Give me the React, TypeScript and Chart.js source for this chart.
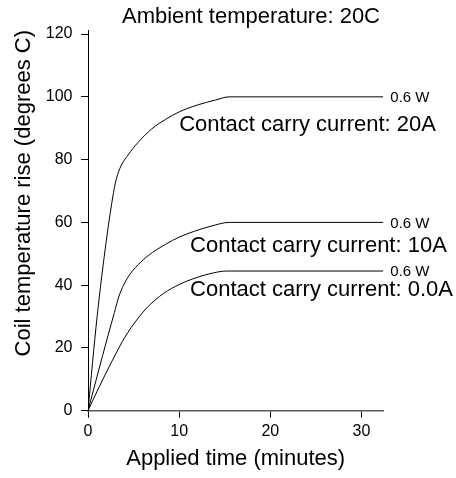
import React, { useEffect, useRef } from 'react';
import { Chart, registerables } from 'chart.js';

Chart.register(...registerables);

// ---- data ----
const time20A = [0, 1, 2, 2.6, 3, 3.5, 4.4, 5.5, 7, 8.5, 10, 12, 14, 15.5, 32.4];
const rise20A = [0, 30, 54, 66, 72.5, 77.2, 81.5, 85.5, 89.8, 92.8, 95.2, 97.4, 99, 100, 100];

const time10A = [0, 1, 2.2, 2.9, 3.4, 4.4, 5.5, 6.6, 8.5, 10, 11.7, 13.5, 15.5, 32.4];
const rise10A = [0, 11, 24, 31.3, 36.5, 42.6, 46.5, 49.4, 53, 55.3, 57.2, 58.8, 60, 60];

const time0A = [0, 1, 2.2, 3.1, 4, 5.5, 6.6, 8.3, 10, 11.5, 13.3, 15.2, 32.4];
const rise0A = [0, 6.2, 13.3, 18.4, 23.2, 29.5, 33.2, 37.4, 40.2, 42, 43.6, 44.5, 44.5];

const seriesNames = ['Contact carry current: 20A', 'Contact carry current: 10A', 'Contact carry current: 0.0A'];
const powerLabels = ['0.6 W', '0.6 W', '0.6 W'];
const nameLabelTime = [10, 11.2, 11.2];
const nameLabelRise = [89.2, 50.5, 36.5];

const xTicks = [0, 10, 20, 30];
const yTicks = [0, 20, 40, 60, 80, 100, 120];

const chartTitle = 'Ambient temperature: 20C';
const xTitle = 'Applied time (minutes)';
const yTitle = 'Coil temperature rise (degrees C)';

const FONT = '"Liberation Sans", Arial, Helvetica, sans-serif';

const seriesTimes = [time20A, time10A, time0A];
const seriesRises = [rise20A, rise10A, rise0A];

export default function App() {
  const canvasRef = useRef<HTMLCanvasElement | null>(null);

  useEffect(() => {
    const canvas = canvasRef.current;
    if (!canvas) return;

    const labelPlugin = {
      id: 'labelPlugin',
      afterDraw(chart: any) {
        const ctx = chart.ctx;
        const xs = chart.scales.x;
        const ys = chart.scales.y;
        ctx.save();
        ctx.fillStyle = '#000';
        // main title
        ctx.font = `22px ${FONT}`;
        ctx.textAlign = 'center';
        ctx.textBaseline = 'alphabetic';
        ctx.fillText(chartTitle, 251, 22.7);
        // series labels
        for (let i = 0; i < seriesNames.length; i++) {
          const t = seriesTimes[i];
          const r = seriesRises[i];
          const endX = xs.getPixelForValue(t[t.length - 1]);
          const endY = ys.getPixelForValue(r[r.length - 1]);
          ctx.font = `15px ${FONT}`;
          ctx.textAlign = 'left';
          ctx.textBaseline = 'alphabetic';
          ctx.fillText(powerLabels[i], endX + 7, endY + 5.3);
          ctx.font = `22px ${FONT}`;
          ctx.fillText(seriesNames[i], xs.getPixelForValue(nameLabelTime[i]), ys.getPixelForValue(nameLabelRise[i]));
        }
        ctx.restore();
      },
    };

    const chart = new Chart(canvas, {
      type: 'line',
      data: {
        datasets: seriesTimes.map((t, i) => ({
          label: seriesNames[i],
          data: t.map((x, j) => ({ x, y: seriesRises[i][j] })),
          borderColor: '#000',
          borderWidth: 1,
          pointRadius: 0,
          fill: false,
          cubicInterpolationMode: 'monotone' as const,
        })),
      },
      options: {
        responsive: false,
        animation: false,
        events: [],
        layout: { padding: { top: 30, right: 72.7, bottom: 0, left: 0 } },
        plugins: { legend: { display: false }, tooltip: { enabled: false }, title: { display: false } },
        scales: {
          x: {
            type: 'linear',
            min: 0,
            max: 32.4,
            afterBuildTicks: (s: any) => {
              s.ticks = xTicks.map((v) => ({ value: v }));
            },
            afterFit: (s: any) => {
              s.height = 67.3;
            },
            grid: { display: true, drawOnChartArea: false, drawTicks: true, tickLength: 7, color: '#000' },
            border: { display: true, color: 'rgba(0,0,0,0.65)', width: 1.5 },
            ticks: { color: '#000', font: { family: FONT, size: 16 }, padding: 4, maxRotation: 0, autoSkip: false },
            title: { display: true, text: xTitle, color: '#000', font: { family: FONT, size: 22 }, padding: { top: 0, bottom: 6 } },
          },
          y: {
            type: 'linear',
            min: 0,
            max: 121.3,
            afterBuildTicks: (s: any) => {
              s.ticks = yTicks.map((v) => ({ value: v }));
            },
            afterFit: (s: any) => {
              s.width = 88;
            },
            grid: { display: true, drawOnChartArea: false, drawTicks: true, tickLength: 7, color: '#000' },
            border: { display: true, color: '#000', width: 1 },
            ticks: { color: '#000', font: { family: FONT, size: 16 }, padding: 8.5, autoSkip: false },
            title: { display: true, text: yTitle, color: '#000', align: 'end', font: { family: FONT, size: 22 }, padding: { top: 11, bottom: 0 } },
          },
        },
      },
      plugins: [labelPlugin],
    } as any);

    return () => chart.destroy();
  }, []);

  return (
    <div style={{ position: 'absolute', left: 0, top: 0, width: 456, height: 478, background: '#fff' }}>
      <canvas ref={canvasRef} width={456} height={478} style={{ display: 'block', width: 456, height: 478 }} />
    </div>
  );
}
